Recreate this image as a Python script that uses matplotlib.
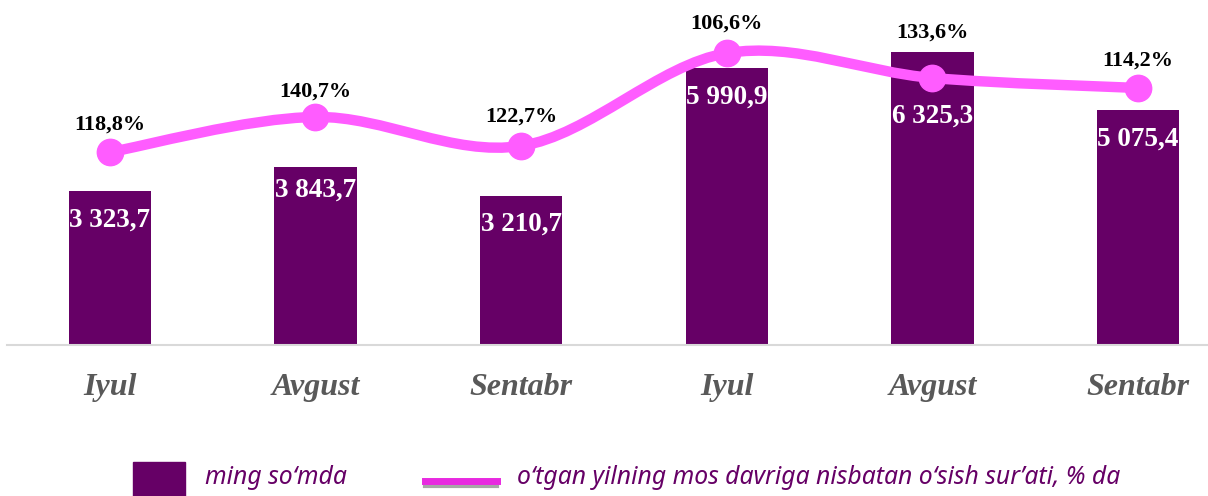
import numpy as np
import matplotlib
matplotlib.use('Agg')
import matplotlib.pyplot as plt
from matplotlib.path import Path
from matplotlib.patches import PathPatch, Rectangle
from matplotlib.lines import Line2D

months = ['Iyul', 'Avgust', 'Sentabr', 'Iyul', 'Avgust', 'Sentabr']
amounts = [3323.7, 3843.7, 3210.7, 5990.9, 6325.3, 5075.4]
amount_labels = ['3 323,7', '3 843,7', '3 210,7', '5 990,9', '6 325,3', '5 075,4']
growth_labels = ['118,8%', '140,7%', '122,7%', '106,6%', '133,6%', '114,2%']
# height of the growth line on its own (hidden) axis
growth_level = [55.9, 66.1, 57.7, 84.6, 77.4, 74.5]

bar_color = '#660066'
line_color = '#FF5CFF'

fig = plt.figure(figsize=(12.08, 4.96), dpi=100)
ax = fig.add_axes([7 / 1208, 151 / 496, 1201 / 1208, 345 / 496])
x = np.arange(len(months))

ax.bar(x, amounts, width=0.4, color=bar_color, zorder=2)
ax.set_xlim(-0.5, 5.34)
ax.set_ylim(0, 7450)
ax.set_yticks([])
for s in ['top', 'left', 'right']:
    ax.spines[s].set_visible(False)
ax.spines['bottom'].set_color('#D9D9D9')
ax.spines['bottom'].set_linewidth(1.5)
ax.set_xticks(x, months)
ax.tick_params(axis='x', length=0, pad=20)
for t in ax.get_xticklabels():
    t.set_fontfamily('Liberation Serif')
    t.set_fontweight('bold')
    t.set_fontstyle('italic')
    t.set_fontsize(23)
    t.set_color('#595959')

# labels inside the bars
bar_offsets = [-21, -17, -20, -21, -46, -21]
for xi, v, lab, off in zip(x, amounts, amount_labels, bar_offsets):
    ax.annotate(lab, (xi, v), xytext=(0, off), textcoords='offset points',
                ha='center', va='center', color='white', fontsize=19.5,
                fontweight='bold', family='Liberation Serif', zorder=5)

# growth line on a twin axis
ax2 = ax.twinx()
ax2.set_ylim(0, 100)
ax2.set_yticks([])
for s in ax2.spines.values():
    s.set_visible(False)

# smooth curve like Excel's "smoothed line" (Catmull-Rom -> cubic bezier)
pts = np.column_stack([x, growth_level]).astype(float)
ext = np.vstack([pts[0], pts, pts[-1]])
verts = [tuple(pts[0])]
codes = [Path.MOVETO]
for i in range(len(pts) - 1):
    p0, p1, p2, p3 = ext[i], ext[i + 1], ext[i + 2], ext[i + 3]
    c1 = p1 + (p2 - p0) / 6
    c2 = p2 - (p3 - p1) / 6
    verts += [tuple(c1), tuple(c2), tuple(p2)]
    codes += [Path.CURVE4] * 3
ax2.add_patch(PathPatch(Path(verts, codes), facecolor='none', edgecolor=line_color,
                        lw=7.5, capstyle='round', zorder=3))
ax2.plot(x, growth_level, 'o', ms=19, color=line_color, zorder=4)

growth_offsets = [20, 18, 21, 21, 33, 20]
for xi, v, lab, off in zip(x, growth_level, growth_labels, growth_offsets):
    ax2.annotate(lab, (xi, v), xytext=(0, off), textcoords='offset points',
                 ha='center', va='center', color='black', fontsize=16,
                 fontweight='bold', family='Liberation Serif', zorder=6)

# legend drawn at the bottom
fig.add_artist(Rectangle((133 / 1208, 0), 52 / 1208, 34 / 496,
                         transform=fig.transFigure, color=bar_color))
fig.text(205 / 1208, 18 / 496, 'ming so\u2018mda', ha='left', va='center',
         fontsize=17.8, style='italic', family='Noto Sans', color=bar_color)
fig.add_artist(Line2D([425 / 1208, 497 / 1208], [10.5 / 496, 10.5 / 496],
                      transform=fig.transFigure, color='#A6A6A6', lw=3))
fig.add_artist(Line2D([425 / 1208, 497 / 1208], [15 / 496, 15 / 496],
                      transform=fig.transFigure, color='#E829E0', lw=5))
fig.text(517 / 1208, 18 / 496,
         'o\u2018tgan yilning mos davriga nisbatan o\u2018sish sur\u2019ati, % da',
         ha='left', va='center', fontsize=17.8, style='italic', family='Noto Sans',
         color=bar_color)

fig.savefig('out.png', dpi=100)
